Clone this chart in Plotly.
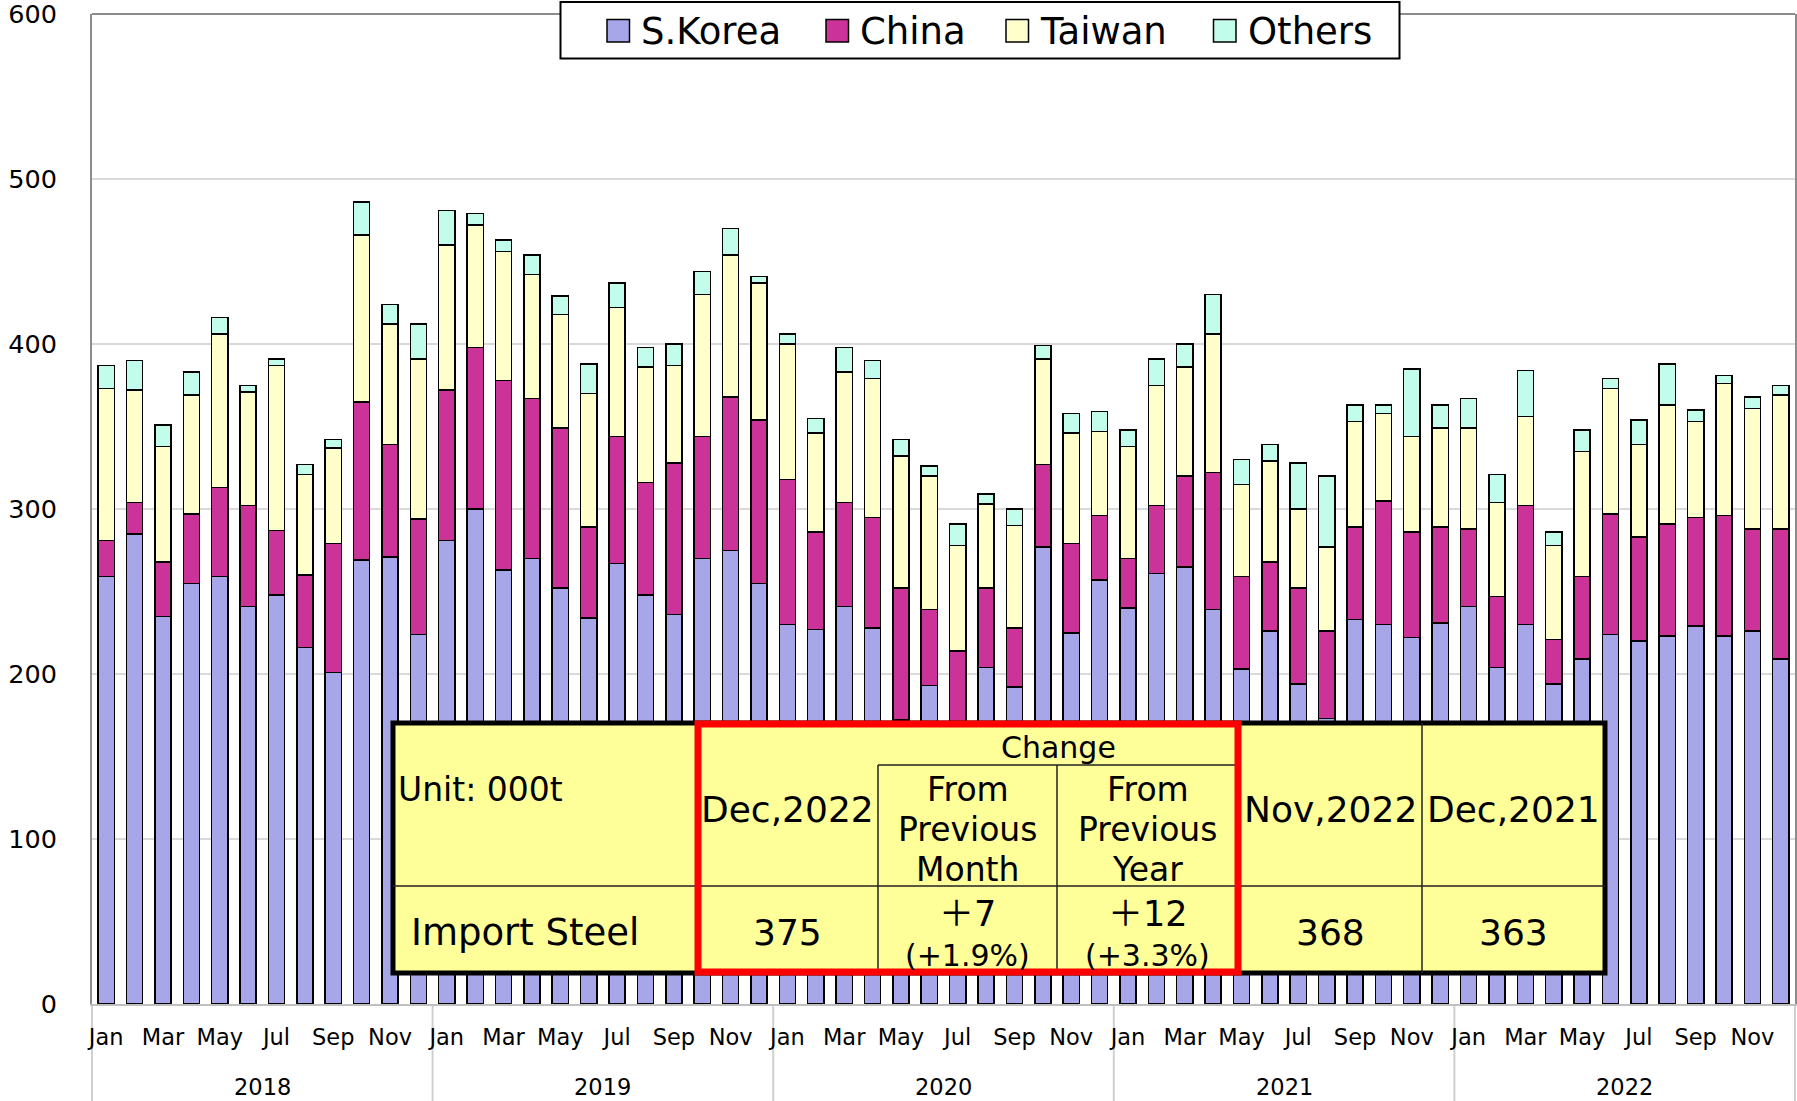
import plotly.graph_objects as go

years = ["2018", "2019", "2020", "2021", "2022"]
months = ["Jan", "Feb", "Mar", "Apr", "May", "Jun",
          "Jul", "Aug", "Sep", "Oct", "Nov", "Dec"]
series_names = ["S.Korea", "China", "Taiwan", "Others"]

s_korea = [259, 285, 235, 255, 259, 241, 248, 216, 201, 269, 271, 224,
           281, 300, 263, 270, 252, 234, 267, 248, 236, 270, 275, 255,
           230, 227, 241, 228, 172, 193, 160, 204, 192, 277, 225, 257,
           240, 261, 265, 239, 203, 226, 194, 173, 233, 230, 222, 231,
           241, 204, 230, 194, 209, 224, 220, 223, 229, 223, 226, 209]
china = [22, 19, 33, 42, 54, 61, 39, 44, 78, 96, 68, 70,
         91, 98, 115, 97, 97, 55, 77, 68, 92, 74, 93, 99,
         88, 59, 63, 67, 80, 46, 54, 48, 36, 50, 54, 39,
         30, 41, 55, 83, 56, 42, 58, 53, 56, 75, 64, 58,
         47, 43, 72, 27, 50, 73, 63, 68, 66, 73, 62, 79]
taiwan = [92, 68, 70, 72, 93, 69, 100, 61, 58, 101, 73, 97,
          88, 74, 78, 75, 69, 81, 78, 70, 59, 86, 86, 83,
          82, 60, 79, 84, 80, 81, 64, 51, 62, 64, 67, 51,
          68, 73, 66, 84, 56, 61, 48, 51, 64, 53, 58, 60,
          61, 57, 54, 57, 76, 76, 56, 72, 58, 80, 73, 81]
others = [14, 18, 13, 14, 10, 4, 4, 6, 5, 20, 12, 21,
          21, 7, 7, 12, 11, 18, 15, 12, 13, 14, 16, 4,
          6, 9, 15, 11, 10, 6, 13, 6, 10, 8, 12, 12,
          10, 16, 14, 24, 15, 10, 28, 43, 10, 5, 41, 14,
          18, 17, 28, 8, 13, 6, 15, 25, 7, 5, 7, 6]

colors = ["#a6a6e8", "#cc3399", "#ffffcc", "#c2fdec"]

# table contents
unit_text = "Unit: 000t"
row_label = "Import Steel"
change_label = "Change"
col_headers = ["Dec,2022", "Nov,2022", "Dec,2021"]
from_month = ["From", "Previous", "Month"]
from_year = ["From", "Previous", "Year"]
values_main = ["375", "368", "363"]
chg_month = ["＋7", "(+1.9%)"]
chg_year = ["＋12", "(+3.3%)"]

W, H = 1797, 1101
ML, MR, MT, MB = 92, 2, 14, 97
PW, PH = W - ML - MR, H - MT - MB
FONT = "DejaVu Sans, Noto Sans CJK JP, sans-serif"

def px(x):
    return (x - ML) / PW

def py(y):
    return (H - MB - y) / PH

n = len(years) * len(months)
xs = list(range(n))

fig = go.Figure()
for name, vals, col in zip(series_names, [s_korea, china, taiwan, others], colors):
    fig.add_trace(go.Bar(
        x=xs, y=vals, name=name, showlegend=False,
        marker=dict(color=col, line=dict(color="black", width=1.5)),
    ))

tickvals = [i for i in xs if i % 2 == 0]
ticktext = [months[i % 12] for i in tickvals]

shapes = []
annotations = []

# year separators below axis
for k in range(len(years) + 1):
    xp = k * 12 / n
    shapes.append(dict(type="line", xref="paper", yref="paper", layer="below",
                       x0=xp, x1=xp, y0=0, y1=-MB / PH,
                       line=dict(color="#d0d0d0", width=2)))
# top border
shapes.append(dict(type="line", xref="paper", yref="paper", x0=0, x1=1, y0=1, y1=1,
                   line=dict(color="#8c8c8c", width=2)))

for k, yr in enumerate(years):
    annotations.append(dict(x=k * 12 + 5.5, xref="x", y=py(1087), yref="paper",
                            text=yr, showarrow=False,
                            font=dict(family=FONT, size=22.5, color="black"),
                            xanchor="center", yanchor="middle"))

# legend (box, swatches, labels)
shapes.append(dict(type="rect", xref="paper", yref="paper",
                   x0=px(560.5), x1=px(1399.5), y0=py(2), y1=py(58.5),
                   fillcolor="white", line=dict(color="black", width=2)))
leg_swatch_x = [607, 826, 1006, 1213.5]
for sx, col, name in zip(leg_swatch_x, colors, series_names):
    shapes.append(dict(type="rect", xref="paper", yref="paper",
                       x0=px(sx), x1=px(sx + 22.5), y0=py(19.5), y1=py(42),
                       fillcolor=col, line=dict(color="black", width=1.5)))
    annotations.append(dict(x=px(sx + 32), y=py(31), xref="paper", yref="paper",
                            text=name, showarrow=False, xanchor="left", yanchor="middle",
                            font=dict(family=FONT, size=37, color="black")))

# table geometry (pixel coordinates)
cx = [393, 697, 878, 1057, 1238, 1422, 1605]
ry = [723, 765, 886, 973]

shapes.append(dict(type="rect", xref="paper", yref="paper",
                   x0=px(cx[0]), x1=px(cx[-1]), y0=py(ry[0]), y1=py(ry[-1]),
                   fillcolor="#ffff99", line=dict(color="black", width=5)))
thin = dict(color="#222222", width=1.5)
shapes.append(dict(type="line", xref="paper", yref="paper",
                   x0=px(cx[0]), x1=px(cx[-1]), y0=py(ry[2]), y1=py(ry[2]), line=thin))
shapes.append(dict(type="line", xref="paper", yref="paper",
                   x0=px(cx[2]), x1=px(cx[4]), y0=py(ry[1]), y1=py(ry[1]), line=thin))
for c in [cx[2], cx[3]]:
    shapes.append(dict(type="line", xref="paper", yref="paper",
                       x0=px(c), x1=px(c), y0=py(ry[1]), y1=py(ry[3]), line=thin))
shapes.append(dict(type="line", xref="paper", yref="paper",
                   x0=px(cx[5]), x1=px(cx[5]), y0=py(ry[0]), y1=py(ry[3]), line=thin))
shapes.append(dict(type="rect", xref="paper", yref="paper",
                   x0=px(cx[1] + 1), x1=px(cx[4]), y0=py(ry[0] + 1), y1=py(ry[3] - 1),
                   line=dict(color="#ff0000", width=7)))

def txt(x, y, s, size, anchor="center"):
    annotations.append(dict(x=px(x), y=py(y), xref="paper", yref="paper", text=s,
                            showarrow=False, xanchor=anchor, yanchor="middle",
                            font=dict(family=FONT, size=size, color="black")))

txt(396, 790, unit_text, 33, "left")
txt(409, 932, row_label, 37, "left")
txt(1058, 747, change_label, 30)
hdr_x = [(cx[1] + cx[2]) / 2, (cx[4] + cx[5]) / 2, (cx[5] + cx[6]) / 2]
for x, s in zip(hdr_x, col_headers):
    txt(x, 809, s, 36)
for x, s in zip(hdr_x, values_main):
    txt(x, 932, s, 36)
for i, s in enumerate(from_month):
    txt((cx[2] + cx[3]) / 2, 790 + 39.5 * i, s, 33)
for i, s in enumerate(from_year):
    txt((cx[3] + cx[4]) / 2, 790 + 39.5 * i, s, 33)
txt((cx[2] + cx[3]) / 2, 914, chg_month[0], 35)
txt((cx[2] + cx[3]) / 2, 955, chg_month[1], 30)
txt((cx[3] + cx[4]) / 2, 914, chg_year[0], 35)
txt((cx[3] + cx[4]) / 2, 955, chg_year[1], 30)

fig.update_layout(
    width=W, height=H,
    margin=dict(l=ML, r=MR, t=MT, b=MB, autoexpand=False),
    paper_bgcolor="white", plot_bgcolor="white",
    barmode="stack", bargap=0.43,
    font=dict(family=FONT, color="black"),
    showlegend=False,
    xaxis=dict(range=[-0.5, n - 0.5], tickvals=tickvals, ticktext=ticktext,
               ticks="", showgrid=False, showline=True, linecolor="#c0c0c0", linewidth=2,
               tickfont=dict(family=FONT, size=22.5, color="black"),
               ticklabelstandoff=12, zeroline=False),
    yaxis=dict(range=[0, 600], dtick=100, showgrid=True, gridcolor="#d9d9d9", gridwidth=1.5,
               showline=True, linecolor="#8c8c8c", linewidth=2, mirror=True, ticks="",
               tickfont=dict(family=FONT, size=25.5, color="black"),
               ticklabelstandoff=28, ticklabeloverflow="allow", zeroline=False),
    shapes=shapes, annotations=annotations,
)

fig.write_html("out.html", config={"displayModeBar": False},
               post_script="document.body.style.margin='0';")
